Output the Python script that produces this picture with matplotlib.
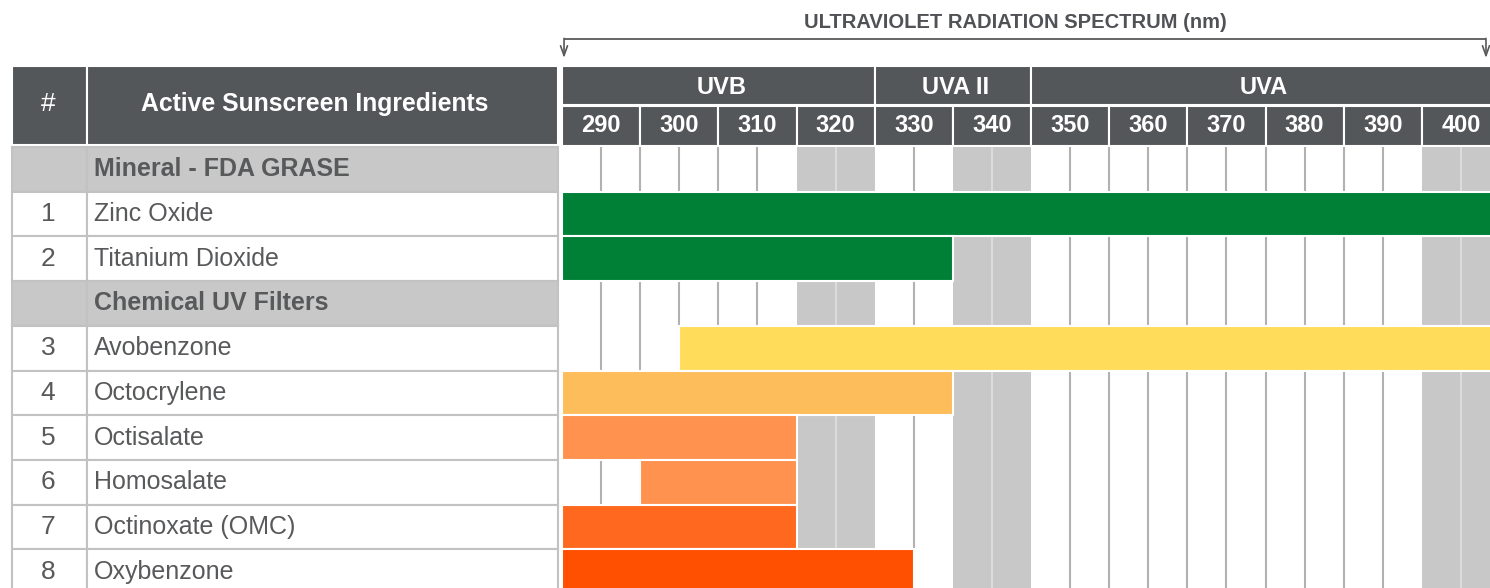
import matplotlib.pyplot as plt

plt.rcParams['font.family'] = ['Liberation Sans', 'DejaVu Sans']

# ---- data ----
wavelengths = [290, 300, 310, 320, 330, 340, 350, 360, 370, 380, 390, 400]
bands = ["UVB", "UVA II", "UVA"]
band_start = [290, 330, 350]
band_end = [330, 350, 410]
shaded_cols = [320, 340, 400]

groups = ["Mineral - FDA GRASE", "Chemical UV Filters"]
group_size = [2, 6]
ingredients = ["Zinc Oxide", "Titanium Dioxide", "Avobenzone", "Octocrylene",
               "Octisalate", "Homosalate", "Octinoxate (OMC)", "Oxybenzone"]
uv_start = [290, 290, 305, 290, 290, 300, 290, 290]
uv_end = [410, 340, 410, 340, 320, 320, 320, 335]
bar_colors = ["#008037", "#008037", "#ffdd5a", "#fdbd5b",
              "#ff924e", "#ff924e", "#ff681f", "#ff4f00"]

# ---- styling ----
DARK = "#54575a"
GREY = "#c8c8c8"
BORDER = "#c2c2c2"
TXT = "#58595b"
W, H = 1490, 588
chart_x0 = 562
col_px = 78.17
row_top, row_h = 147, 44.7

fig = plt.figure(figsize=(W / 100, H / 100), dpi=100)
axl = fig.add_axes([0, 0, chart_x0 / W, 1])
axl.set_xlim(0, chart_x0)
axl.set_ylim(H, 0)
axl.axis("off")

ax = fig.add_axes([chart_x0 / W, 0, (W - chart_x0) / W, 1])
x_right = 290 + (W - chart_x0) / col_px * 10
ax.set_xlim(290, x_right)
ax.set_ylim(H, 0)
ax.axis("off")

# build row list: group header rows + ingredient rows
rows = []
k = 0
for g, n in zip(groups, group_size):
    rows.append(("group", g, None))
    for j in range(n):
        rows.append(("item", ingredients[k], k))
        k += 1

# title + bracket
ax.text(348, 22, "ULTRAVIOLET RADIATION SPECTRUM (nm)", ha="center", va="center",
        fontsize=14.5, fontweight="bold", color="#505255")
bx0, bx1 = 290.26, 408.2
ax.plot([bx0, bx1], [39, 39], color=TXT, lw=1.3, solid_capstyle="butt")
for bx in (bx0, bx1):
    ax.annotate("", xy=(bx, 58), xytext=(bx, 38.4),
                arrowprops=dict(arrowstyle="->,head_length=0.7,head_width=0.25",
                                color=TXT, lw=1.2, shrinkA=0, shrinkB=0))

# header (left)
axl.bar([12, 87], 79, width=[75, 471], bottom=66, align="edge",
        color=DARK, edgecolor="white", lw=1.5)
axl.text(48, 104, "#", ha="center", va="center", color="white", fontsize=19)
axl.text(315, 104, "Active Sunscreen Ingredients", ha="center", va="center",
         color="white", fontsize=17.8, fontweight="bold")

# header (chart)
ax.bar(band_start, 38.5, width=[e - s for s, e in zip(band_start, band_end)],
       bottom=66, align="edge", color=DARK, edgecolor="white", lw=1.5)
for s, e, name in zip(band_start, band_end, bands):
    ax.text((s + min(e, x_right)) / 2 + 0.4, 87.5, name,
            ha="center", va="center", color="white", fontsize=17, fontweight="bold")
ax.bar(wavelengths, 40, width=10, bottom=105.5, align="edge",
       color=DARK, edgecolor="white", lw=1.5)
for w in wavelengths:
    ax.text(w + 5, 125.5, str(w), ha="center", va="center", color="white",
            fontsize=17, fontweight="bold")

# chart background: shaded columns and 5 nm guide lines
n_rows = len(rows)
bottom_px = row_top + n_rows * row_h
ax.bar(shaded_cols, bottom_px - row_top, width=10, bottom=row_top, align="edge",
       color=GREY, lw=0)
guides_dark = [295, 300, 305, 310, 315, 335, 355, 360, 365, 370, 375, 380,
               385, 390, 395]
guides_light = [325, 345, 405]
ax.vlines(guides_dark, row_top, bottom_px, color="#b3b0b0", lw=1.5)
ax.vlines(guides_light, row_top, bottom_px, color="#dcdcdc", lw=1.5)

# rows
for i, (kind, label, idx) in enumerate(rows):
    y0 = row_top + i * row_h
    yc = y0 + row_h / 2
    face = GREY if kind == "group" else "white"
    axl.bar([12, 87], row_h, width=[75, 471], bottom=y0, align="edge",
            color=face, edgecolor=BORDER, lw=1.5)
    if kind == "group":
        axl.text(94, yc, label, ha="left", va="center", color=TXT,
                 fontsize=18, fontweight="bold")
    else:
        axl.text(48, yc, str(idx + 1), ha="center", va="center", color=TXT,
                 fontsize=19)
        axl.text(94, yc, label, ha="left", va="center", color=TXT, fontsize=18)
        ax.barh(yc, uv_end[idx] - uv_start[idx], left=uv_start[idx],
                height=row_h, color=bar_colors[idx], edgecolor="white", lw=1.5,
                zorder=3)

fig.savefig("out.png", dpi=100)
